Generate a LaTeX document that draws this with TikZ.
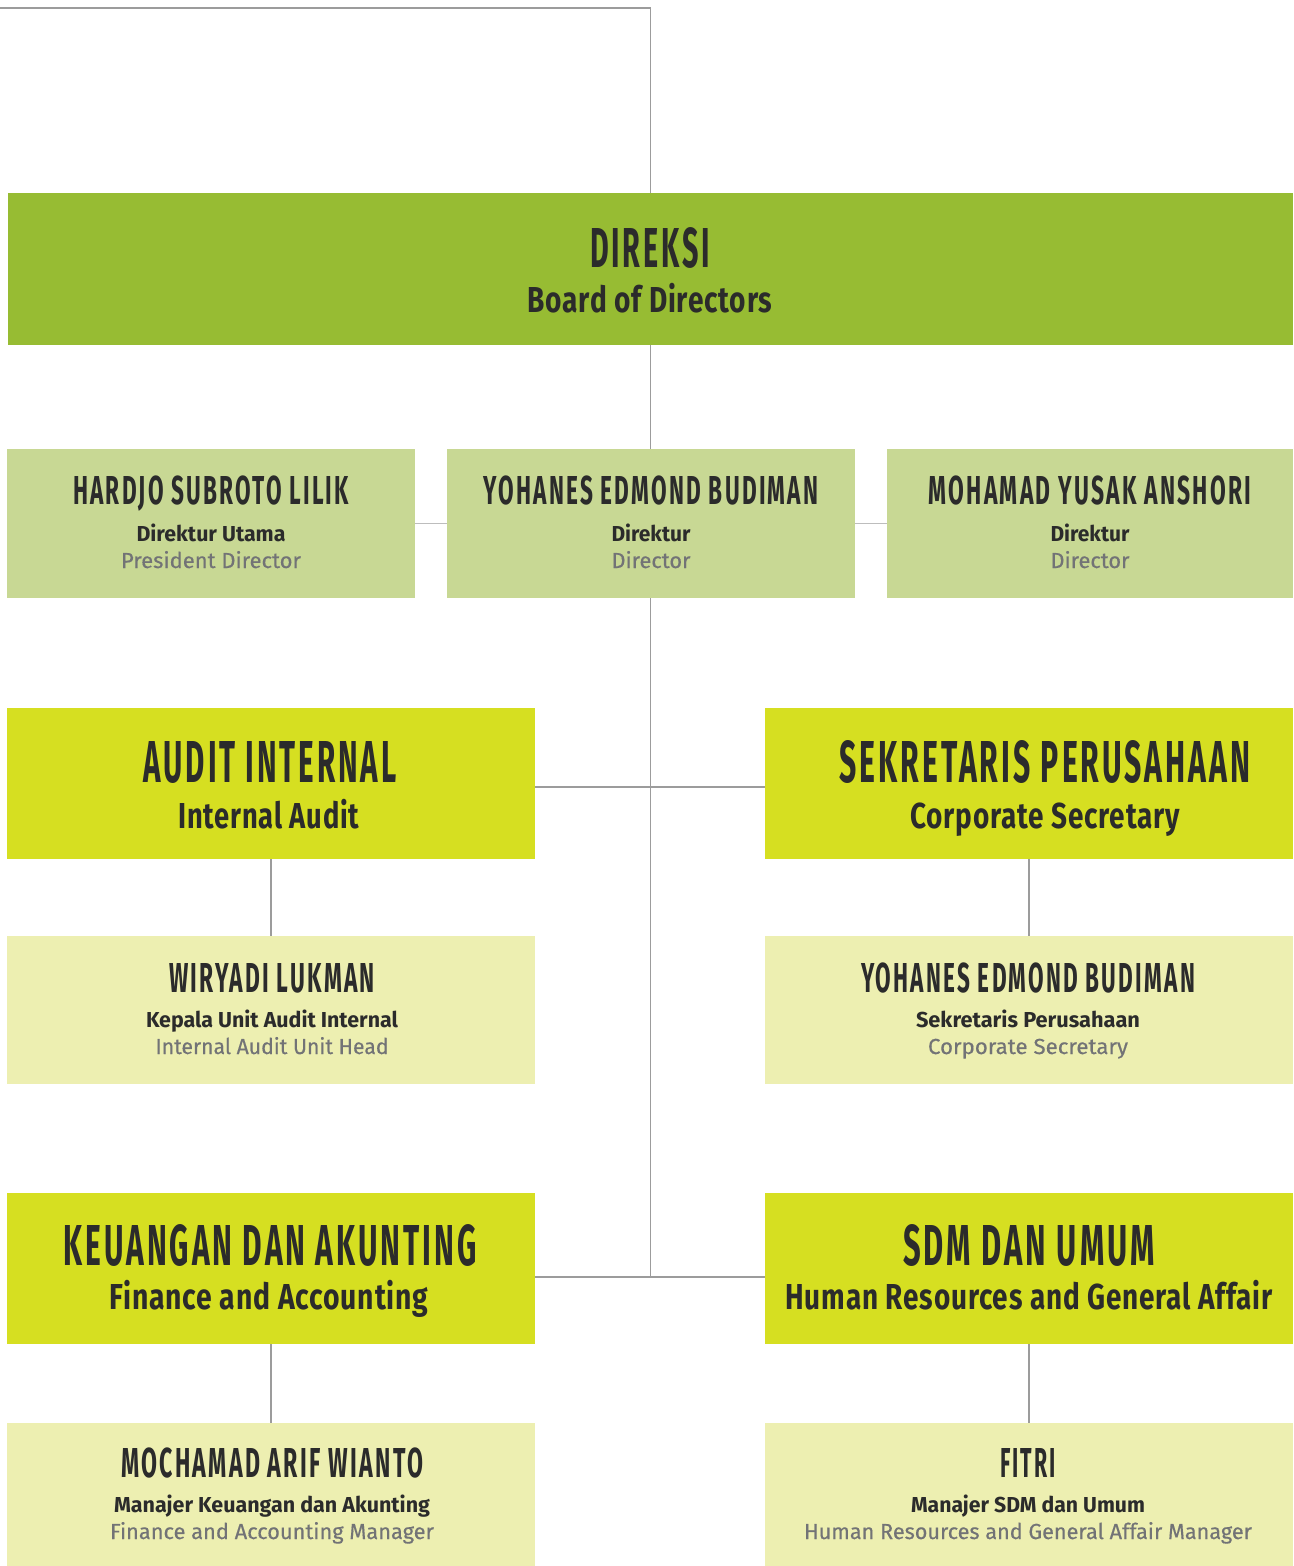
\documentclass[tikz,border=0pt]{standalone}
\usepackage{fontspec}
\usepackage{graphicx}
\setmainfont{Fira Sans}
\newfontfamily\hdfont{Fira Sans}[LetterSpace=10]
\newfontfamily\subfont{Fira Sans}[LetterSpace=3]
\definecolor{cA}{HTML}{97BC33}
\definecolor{cB}{HTML}{C8D894}
\definecolor{cC}{HTML}{D6DF21}
\definecolor{cD}{HTML}{EDEFB1}
\definecolor{ink}{HTML}{2B2B2B}
\definecolor{greytxt}{HTML}{727376}
\definecolor{linecol}{HTML}{9C9C9C}
\definecolor{linelight}{HTML}{BDBDBD}
\newsavebox\fitbox
\newsavebox\fitcap
\newcommand\fit[4]{\sbox\fitbox{#1#4}\sbox\fitcap{#1H}%
\pgfmathsetmacro\fitsx{#2/(\the\wd\fitbox)}%
\pgfmathsetmacro\fitsy{#3/(\the\ht\fitcap)}%
\scalebox{\fitsx}[\fitsy]{\usebox\fitbox}}
\newcommand\HD{\hdfont\bfseries}
\newcommand\SB{\subfont\bfseries}
\newcommand\GR{\addfontfeature{FakeBold=0.4}}
\tikzset{
  bx/.style={draw=none, inner sep=0pt, outer sep=0pt},
  lbl/.style={inner sep=0pt, anchor=base, text=ink, font=\fontsize{20}{24}\selectfont},
  glbl/.style={lbl, text=greytxt},
  conn/.style={draw=linecol, line width=1.3pt},
  connlight/.style={draw=linelight, line width=1.2pt}
}
\begin{document}
\begin{tikzpicture}[x=1pt,y=-1pt]
\useasboundingbox (0,0) rectangle (1293,1566);
\fill[white] (0,0) rectangle (1293,1566);
% boxes
\node[bx, fill=cA, minimum width=1285pt, minimum height=152pt] (dir) at (650.5,269) {};
\node[bx, fill=cB, minimum width=408pt, minimum height=149pt] (hardjo) at (211,523.5) {};
\node[bx, fill=cB, minimum width=408pt, minimum height=149pt] (yoh) at (651,523.5) {};
\node[bx, fill=cB, minimum width=406pt, minimum height=149pt] (mys) at (1090,523.5) {};
\node[bx, fill=cC, minimum width=528pt, minimum height=151pt] (audit) at (271,783.5) {};
\node[bx, fill=cC, minimum width=528pt, minimum height=151pt] (sek) at (1029,783.5) {};
\node[bx, fill=cD, minimum width=528pt, minimum height=148pt] (wir) at (271,1010) {};
\node[bx, fill=cD, minimum width=528pt, minimum height=148pt] (yse) at (1029,1010) {};
\node[bx, fill=cC, minimum width=528pt, minimum height=151pt] (keu) at (271,1268.5) {};
\node[bx, fill=cC, minimum width=528pt, minimum height=151pt] (sdm) at (1029,1268.5) {};
\node[bx, fill=cD, minimum width=528pt, minimum height=143pt] (mar) at (271,1494.5) {};
\node[bx, fill=cD, minimum width=528pt, minimum height=143pt] (fitri) at (1029,1494.5) {};
% connectors
\coordinate (tl) at (0,8);
\coordinate (j1) at (650.5,787);
\coordinate (j2) at (650.5,1277);
\draw[conn] (tl) -| (dir.north);
\draw[conn] (dir.south) -- (dir.south |- yoh.north);
\draw[connlight] (hardjo.east) -- (yoh.west);
\draw[connlight] (yoh.east) -- (mys.west);
\draw[conn] (j1 |- yoh.south) -- (j2);
\draw[conn] (audit.east |- j1) -- (sek.west |- j1);
\draw[conn] (keu.east |- j2) -- (sdm.west |- j2);
\draw[conn] (audit.south) -- (wir.north);
\draw[conn] (sek.south) -- (yse.north);
\draw[conn] (keu.south) -- (mar.north);
\draw[conn] (sdm.south) -- (fitri.north);
% texts row 1
\node[lbl] (t1a) at (650,267) {\fit{\HD}{120}{39}{DIREKSI}};
\node[lbl] (t1b) at (650,312) {\fit{\SB}{245}{25}{Board of Directors}};
% row 2
\node[lbl] (t2a) at (211,504) {\fit{\HD}{276}{28}{HARDJO SUBROTO LILIK}};
\node[lbl] (t2b) at (211,541) {\fit{\bfseries}{149}{15}{Direktur Utama}};
\node[glbl] (t2c) at (211,568) {\fit{\GR}{180}{15}{President Director}};
\node[lbl] (t2d) at (651,504) {\fit{\HD}{335}{28}{YOHANES EDMOND BUDIMAN}};
\node[lbl] (t2e) at (651,541) {\fit{\bfseries}{79}{15}{Direktur}};
\node[glbl] (t2f) at (651,568) {\fit{\GR}{79}{15}{Director}};
\node[lbl] (t2g) at (1090,504) {\fit{\HD}{323}{28}{MOHAMAD YUSAK ANSHORI}};
\node[lbl] (t2h) at (1090,541) {\fit{\bfseries}{79}{15}{Direktur}};
\node[glbl] (t2i) at (1090,568) {\fit{\GR}{79}{15}{Director}};
% row 3
\node[lbl] (t3a) at (270,782) {\fit{\HD}{253}{41}{AUDIT INTERNAL}};
\node[lbl] (t3b) at (269,828) {\fit{\SB}{181}{25}{Internal Audit}};
\node[lbl] (t3c) at (1045,782) {\fit{\HD}{411}{41}{SEKRETARIS PERUSAHAAN}};
\node[lbl] (t3d) at (1045,828) {\fit{\SB}{270}{25}{Corporate Secretary}};
% row 4
\node[lbl] (t4a) at (272,992) {\fit{\HD}{206}{29}{WIRYADI LUKMAN}};
\node[lbl] (t4b) at (272,1027) {\fit{\bfseries}{252}{15}{Kepala Unit Audit Internal}};
\node[glbl] (t4c) at (272,1054) {\fit{\GR}{233}{15}{Internal Audit Unit Head}};
\node[lbl] (t4d) at (1028,992) {\fit{\HD}{334}{29}{YOHANES EDMOND BUDIMAN}};
\node[lbl] (t4e) at (1028,1027) {\fit{\bfseries}{224}{15}{Sekretaris Perusahaan}};
\node[glbl] (t4f) at (1028,1054) {\fit{\GR}{200}{15}{Corporate Secretary}};
% row 5
\node[lbl] (t5a) at (270,1265) {\fit{\HD}{413}{40}{KEUANGAN DAN AKUNTING}};
\node[lbl] (t5b) at (269,1309) {\fit{\SB}{319}{25}{Finance and Accounting}};
\node[lbl] (t5c) at (1029,1265) {\fit{\HD}{252}{40}{SDM DAN UMUM}};
\node[lbl] (t5d) at (1029,1309) {\fit{\SB}{487}{25}{Human Resources and General Affair}};
% row 6
\node[lbl] (t6a) at (272,1477) {\fit{\HD}{302}{29}{MOCHAMAD ARIF WIANTO}};
\node[lbl] (t6b) at (272,1512) {\fit{\bfseries}{316}{15}{Manajer Keuangan dan Akunting}};
\node[glbl] (t6c) at (272,1539) {\fit{\GR}{324}{15}{Finance and Accounting Manager}};
\node[lbl] (t6d) at (1028,1477) {\fit{\HD}{56}{29}{FITRI}};
\node[lbl] (t6e) at (1028,1512) {\fit{\bfseries}{234}{15}{Manajer SDM dan Umum}};
\node[glbl] (t6f) at (1028,1539) {\fit{\GR}{448}{15}{Human Resources and General Affair Manager}};
\end{tikzpicture}
\end{document}
